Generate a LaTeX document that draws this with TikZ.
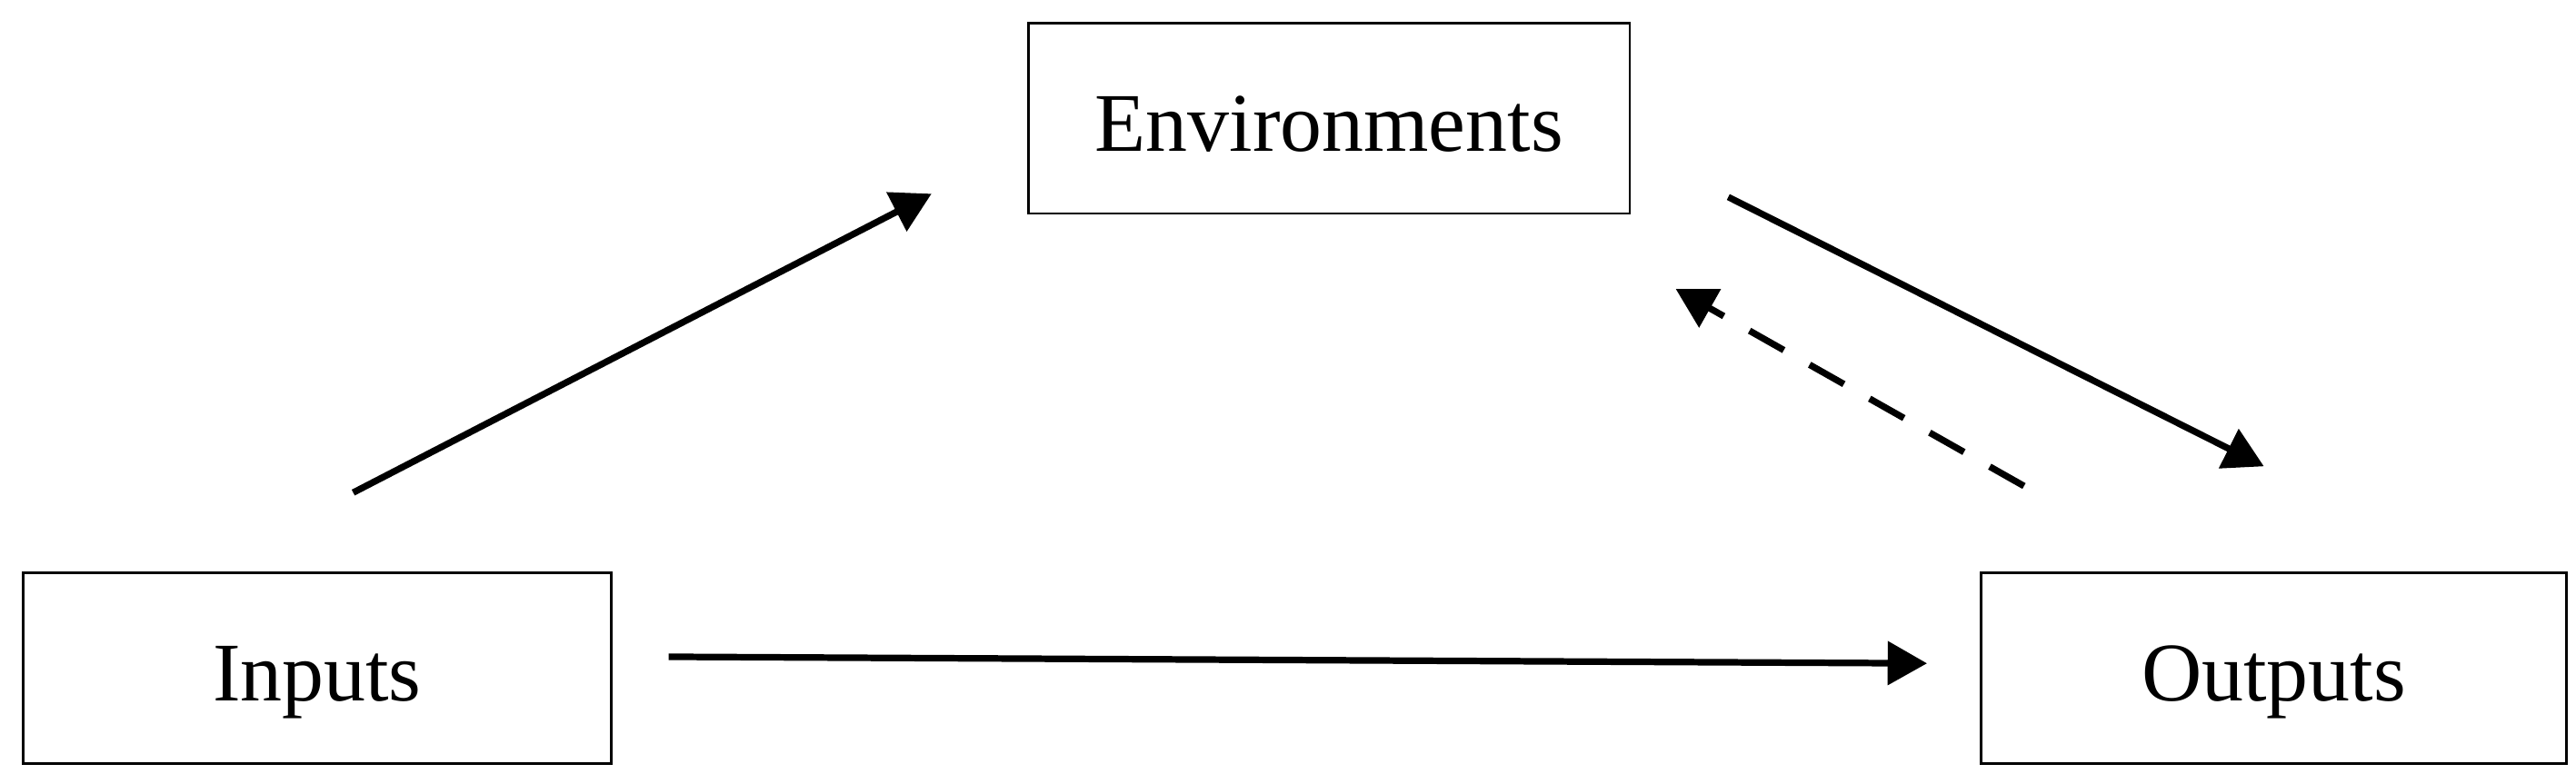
\documentclass[tikz,border=0pt]{standalone}
\usepackage{fontspec}
\setmainfont{Liberation Serif}
\usetikzlibrary{arrows.meta}

\begin{document}
\begin{tikzpicture}[x=0.50pt,y=0.50pt,yscale=-1,xscale=1,
    block/.style={draw, line width=0.8pt, minimum height=58pt, inner sep=0pt,
        text height=21pt, text depth=1pt, font=\fontsize{25.4}{30}\selectfont},
    link/.style={line width=2pt, -{Triangle[length=12pt,width=13pt]}},
    backlink/.style={link, dash pattern=on 12pt off 9pt}]
    \useasboundingbox (0,0) rectangle (1568,477);
    %Shape: Rectangle [id:env]
    \node [block, minimum width=183pt] (env) at (809,72) {Environments};
    %Shape: Rectangle [id:inp]
    \node [block, minimum width=179pt] (inp) at (193,407) {Inputs};
    %Shape: Rectangle [id:out]
    \node [block, minimum width=178pt] (out) at (1384,407) {Outputs};
    
    % free ends of the arrows
    \coordinate (inpA) at (215,300);
    \coordinate (envA) at (567,118);
    \coordinate (envB) at (1052,120);
    \coordinate (outB) at (1378,284);
    \coordinate (outC) at (1232,296);
    \coordinate (envC) at (1020,176);
    \coordinate (inpD) at (407,400);
    \coordinate (outD) at (1173,404);
    
    %Straight Lines [id:inp-env]
    \draw [link] (inpA) -- (envA) ;
    %Straight Lines [id:env-out]
    \draw [link] (envB) -- (outB) ;
    %Straight Lines [id:out-env]
    \draw [backlink] (outC) -- (envC) ;
    %Straight Lines [id:inp-out]
    \draw [link] (inpD) -- (outD) ;
\end{tikzpicture}
\end{document}
